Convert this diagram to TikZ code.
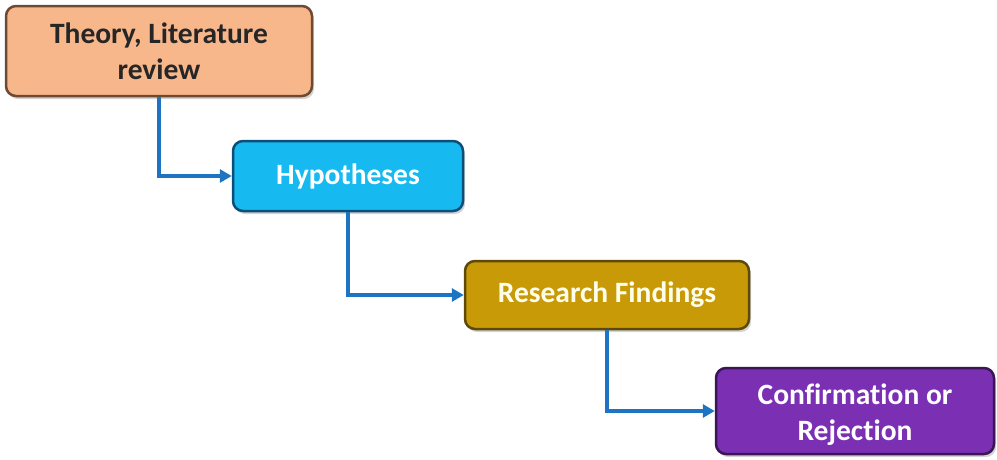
\documentclass[tikz,border=0pt]{standalone}
\usepackage{fontspec}
\setmainfont{Carlito}[Ligatures={NoCommon}]
\usetikzlibrary{arrows.meta,shadows}
\definecolor{orfill}{HTML}{F8B78B}
\definecolor{ordraw}{HTML}{6E4A32}
\definecolor{cyfill}{HTML}{17BAF0}
\definecolor{cydraw}{HTML}{0B4E78}
\definecolor{gofill}{HTML}{C99A08}
\definecolor{godraw}{HTML}{5E4A08}
\definecolor{pufill}{HTML}{7B2FB2}
\definecolor{pudraw}{HTML}{3A1656}
\definecolor{arrowblue}{HTML}{1C74C2}
\begin{document}
\begin{tikzpicture}[x=1pt,y=-1pt,
  stagebox/.style={draw, line width=2.5pt, rounded corners=10pt, align=center,
    font=\fontsize{29.5}{36}\selectfont\bfseries, inner sep=0pt,
    drop shadow={shadow xshift=2pt, shadow yshift=-3pt, opacity=0.35}},
  flowline/.style={draw=arrowblue, line width=3.5pt, -{Triangle[length=12pt,width=13pt]}}]
\useasboundingbox (0,0) rectangle (997,459);
\node[stagebox, fill=orfill, draw=ordraw, text=black!85, minimum width=306pt, minimum height=90pt] (theory) at (159,51) {Theory, Literature\\review};
\node[stagebox, fill=cyfill, draw=cydraw, text=white, minimum width=230pt, minimum height=70pt] (hyp) at (348,176) {Hypotheses};
\node[stagebox, fill=gofill, draw=godraw, text=white!92!yellow, minimum width=284pt, minimum height=68pt] (res) at (607,295) {Research Findings};
\node[stagebox, fill=pufill, draw=pudraw, text=white, minimum width=278pt, minimum height=86pt] (conf) at (855,411) {\raisebox{-4pt}[\height][\depth]{\parbox{270pt}{\centering Confirmation or\\Rejection}}};
\draw[flowline] (theory.south) |- (hyp.west);
\draw[flowline] (hyp.south) |- (res.west);
\draw[flowline] (res.south) |- (conf.west);
\end{tikzpicture}
\end{document}
